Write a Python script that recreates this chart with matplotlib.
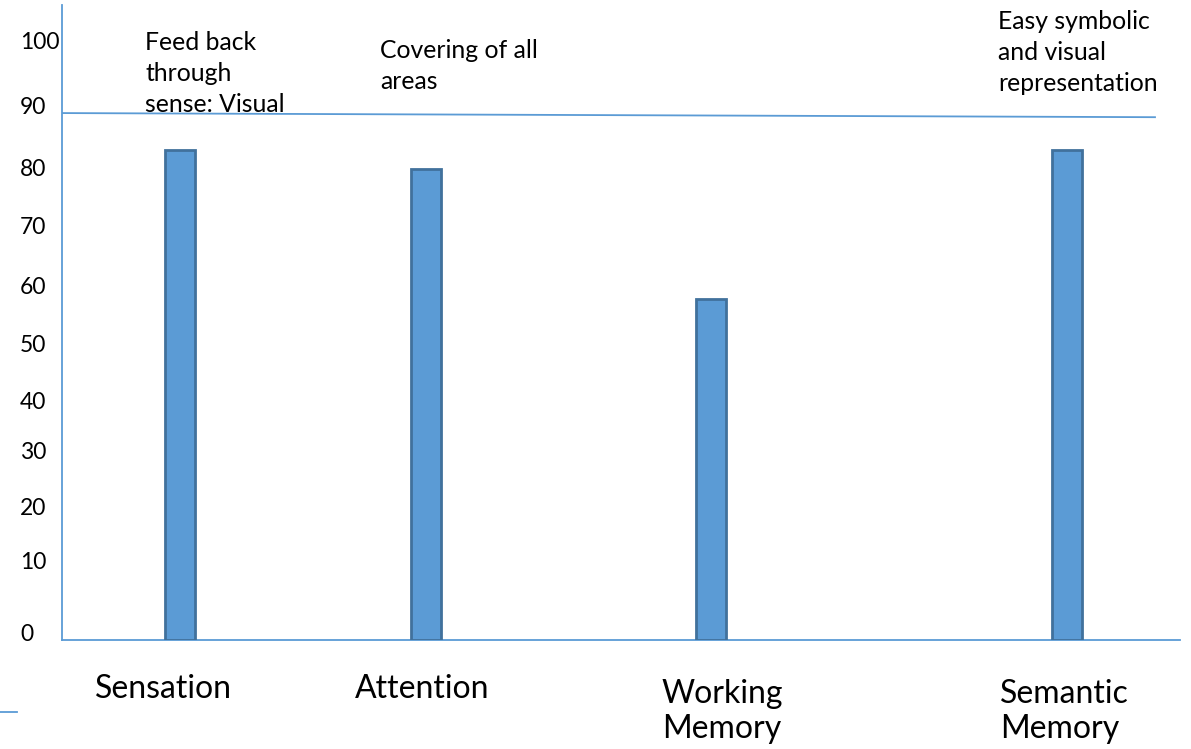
import matplotlib
matplotlib.use("Agg")
import matplotlib.pyplot as plt
from matplotlib.transforms import blended_transform_factory
from matplotlib.lines import Line2D

# ---- data ----
categories = ["Sensation", "Attention", "Working\nMemory", "Semantic\nMemory"]
values = [83.2, 80.0, 57.9, 83.2]
x_pos = [118, 364, 649, 1005]           # category positions along the drawn x axis
label_x = [33, 293, 600, 938]           # left edge of category labels
label_drop = [0, 0, 5, 5]               # extra downward offset (px) of two-line labels
notes = ["Feed back\nthrough\nsense: Visual", "Covering of all\nareas", "", "Easy symbolic\nand visual\nrepresentation"]
note_x = [83, 318, 0, 936]
note_y = [103.4, 102.0, 0, 107.0]
tick_labels = ["0", "10", "20", "30", "40", "50", "60", "70", "80", "90", "100"]
tick_pos = [0.85, 13.2, 22.4, 31.8, 40.4, 50.1, 59.9, 70.0, 80.0, 90.5, 101.5]
line_x = [0, 1093]
line_y = [89.5, 88.8]

BLUE = "#5B9BD5"
EDGE = "#41719C"
FONT = "Lato"

W, H = 1191, 749
fig = plt.figure(figsize=(W / 100, H / 100), dpi=100)
ax = fig.add_axes([62 / W, (H - 640) / H, (1180 - 62) / W, (640 - 5) / H])
ax.set_xlim(0, 1118)
ax.set_ylim(0, 635 / 5.8875)

ax.bar(x_pos, values, width=30, color=BLUE, edgecolor=EDGE, linewidth=2, zorder=3)
ax.plot(line_x, line_y, color=BLUE, lw=1.3, zorder=2)

for s in ["top", "right"]:
    ax.spines[s].set_visible(False)
for s in ["left", "bottom"]:
    ax.spines[s].set_color(BLUE)
    ax.spines[s].set_linewidth(1.3)
ax.set_xticks([])
ax.set_yticks([])

ytr = blended_transform_factory(fig.transFigure, ax.transData)
for t, p in zip(tick_labels, tick_pos):
    ax.text(20 / W, p, t, transform=ytr, ha="left", va="center",
            fontsize=16.5, family=FONT, color="black")

xtr = blended_transform_factory(ax.transData, fig.transFigure)
for c, lx, d in zip(categories, label_x, label_drop):
    ax.text(lx, (H - 674 - d) / H, c, transform=xtr, ha="left", va="top",
            fontsize=23, family=FONT, color="black", linespacing=1.22)

for n, nx, ny in zip(notes, note_x, note_y):
    if n:
        ax.text(nx, ny, n, ha="left", va="top", fontsize=17.8, family=FONT,
                color="black", linespacing=1.42, clip_on=False)

fig.add_artist(Line2D([0, 17 / W], [(H - 712) / H, (H - 712) / H],
                      transform=fig.transFigure, color=BLUE, lw=1.3))

fig.savefig("out.png", dpi=100)
